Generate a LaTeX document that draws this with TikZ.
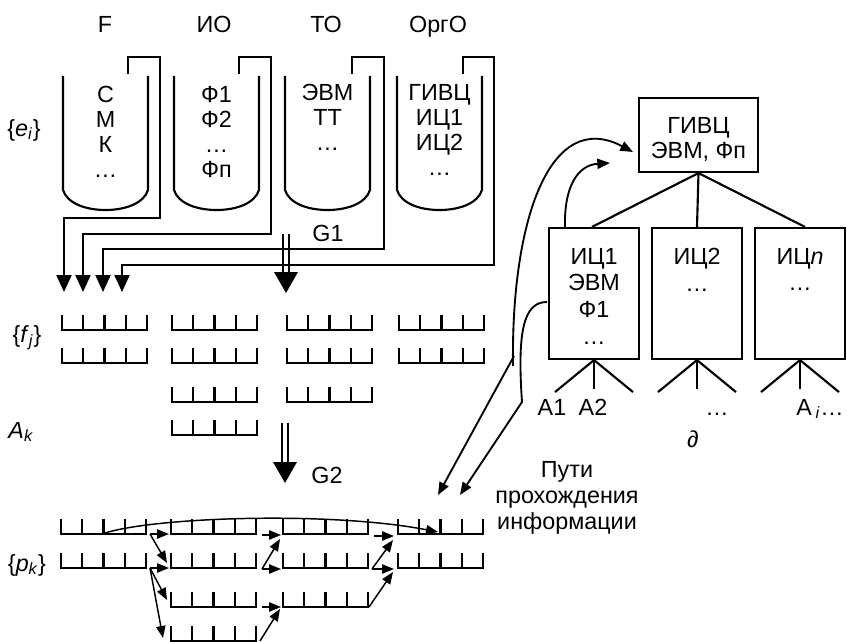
\documentclass[tikz,border=0pt]{standalone}
\usepackage{fontspec}
\setmainfont{Liberation Sans}
\usetikzlibrary{arrows.meta}
\begin{document}
\begin{tikzpicture}[x=0.75pt,y=-0.75pt,line join=miter,
  every node/.style={inner sep=0pt,font=\fontsize{17.5}{18.75}\selectfont},
  ln/.style={line width=1.6pt},
  feed/.style={line width=1.6pt,-{Triangle[length=12.75pt,width=11.25pt]}},
  ca/.style={line width=1.4pt,-{Triangle[length=9.5pt,width=7.5pt]}},
  cab/.style={line width=1.4pt,{Triangle[length=9.5pt,width=7.5pt]}-},
  sa/.style={line width=1.1pt,-{Triangle[length=9pt,width=7pt]}},
  box/.style={draw,line width=1.6pt},
  reg/.pic={\draw[line width=1.6pt] (0,0) -- (0,15) -- (85,15) -- (85,0);
            \foreach \k in {1,2,3}{\draw[line width=1.6pt] (21.25*\k,0) -- (21.25*\k,15);}}
]
\useasboundingbox (0,0) rectangle (847,642);

% ---- column headings
\node[anchor=base] (hF) at (105,33) {F};
\node[anchor=base] (hIO) at (214,33) {ИО};
\node[anchor=base] (hTO) at (326,33) {ТО};
\node[anchor=base] (hOrg) at (438,33) {ОргО};

% ---- containers (buckets)
\foreach \L in {63,174,285,397}{
  \draw[ln] (\L,76) -- (\L,190) .. controls (\L+4,203) and (\L+22,210) .. (\L+42.5,210)
        .. controls (\L+63,210) and (\L+81,203) .. (\L+85,190) -- (\L+85,76);
}
\node[anchor=north,align=center,font=\fontsize{17.5}{18.75}\selectfont] (tF) at (105.5,86) {С\\М\\К\\…};
\node[anchor=north,align=center,font=\fontsize{17.5}{18.75}\selectfont] (tIO) at (216.5,86) {Ф1\\Ф2\\…\\Фп};
\node[anchor=north,align=center,font=\fontsize{17.5}{18.75}\selectfont] (tTO) at (327.5,84) {ЭВМ\\ТТ\\…};
\node[anchor=north,align=center,font=\fontsize{17.5}{18.75}\selectfont] (tOrg) at (439.5,84) {ГИВЦ\\ИЦ1\\ИЦ2\\…};

% ---- feed lines to the four arrows
\draw[feed] (128,74) -- (128,57) -- (160,57) -- (160,218) -- (64,218) -- (64,292);
\draw[feed] (239,74) -- (239,57) -- (271,57) -- (271,234) -- (83,234) -- (83,292);
\draw[feed] (352,74) -- (352,57) -- (384,57) -- (384,249) -- (103,249) -- (103,292);
\draw[feed] (463,74) -- (463,57) -- (494,57) -- (494,265) -- (122,265) -- (122,292);

% ---- G1 double arrow
\draw[ln] (283,234) -- (283,274) (289,234) -- (289,274);
\fill (274,272) -- (298,272) -- (286,293) -- cycle;
\node (g1) at (328,233) {G1};

% ---- left labels
\node (ei) at (24,130) {\{\textit{e}\textsubscript{\textit{i}}\}};
\node (fj) at (27,338) {\{\textit{f}\textsubscript{\textit{j}}\}};
\node (ak) at (21,432) {\textit{A}\textsubscript{\textit{k}}};
\node (pk) at (27,565) {\{\textit{p}\textsubscript{\textit{k}}\}};

% ---- middle registers
\foreach \x/\y in {62/315,62/348,172/315,172/348,172/387,172/420,287/315,287/348,287/387,399/315,399/348}
  \pic at (\x,\y) {reg};

% ---- G2 double arrow
\draw[ln] (282,423) -- (282,464) (288,423) -- (288,464);
\fill (273,462) -- (297,462) -- (285,483) -- cycle;
\node (g2) at (327,475) {G2};

% ---- bottom registers
\foreach \x/\y in {61/519,61/553,171/519,171/553,171/592,171/626,283/519,283/553,283/592,398/519,398/553}
  \pic at (\x,\y) {reg};

% ---- small arrows between bottom registers
\draw[sa] (150,534) -- (169,534);
\draw[sa] (150,534) -- (167,563);
\draw[sa] (150,568) -- (169,568);
\draw[sa] (150,568) -- (167,600);
\draw[sa] (150,568) -- (163,638);
\draw[sa] (262,535) -- (281,535);
\draw[sa] (262,569) -- (280,539);
\draw[sa] (262,569) -- (281,569);
\draw[sa] (262,607) -- (281,607);
\draw[sa] (260,641) -- (280,609);
\draw[sa] (374,536) -- (394,536);
\draw[sa] (372,569) -- (393,540);
\draw[sa] (372,569) -- (394,569);
\draw[sa] (369,607) -- (393,572);

% ---- long path over the first row
\draw[sa] (102,534) .. controls (150,517) and (330,511) .. (438,532);

% ---- tree
\node[box,minimum width=89.25pt,minimum height=55.5pt] (givc) at (698.5,135) {};
\node[align=center,font=\fontsize{17.5}{18.75}\selectfont] (tgivc) at (698.5,139.5) {ГИВЦ\\ЭВМ, Фп};
\node[box,minimum width=67.5pt,minimum height=98.25pt] (ic1) at (594,293.5) {};
\node[box,minimum width=67.5pt,minimum height=98.25pt] (ic2) at (697,293.5) {};
\node[box,minimum width=67.5pt,minimum height=98.25pt] (icn) at (800,293.5) {};
\node[anchor=north,align=center,font=\fontsize{17.5}{20}\selectfont] (tic1) at (594,248) {ИЦ1\\ЭВМ\\Ф1\\…};
\node[anchor=north,align=center,font=\fontsize{17.5}{20}\selectfont] (tic2) at (697,248) {ИЦ2\\…};
\node[anchor=north,align=center,font=\fontsize{17.5}{20}\selectfont] (ticn) at (800,248) {ИЦ\textit{n}\\…};
\draw[ln] (givc.south) -- ([xshift=-1.5pt]ic1.north);
\draw[ln] (givc.south) -- (ic2.north);
\draw[ln] (givc.south) -- ([xshift=3.75pt]icn.north);
\foreach \c in {ic1,ic2,icn}{
  \draw[ln] (\c.south) -- ++(-39,32);
  \draw[ln] (\c.south) -- ++(0,29);
  \draw[ln] (\c.south) -- ++(39,32);
}
\node[anchor=base] (a1) at (552,415) {A1};
\node[anchor=base] (a2) at (593,415) {A2};
\node[anchor=base] (dots2) at (717,415) {…};
\node[anchor=base] (ai) at (820,415) {A\,\textsubscript{\textit{i}}…};
\node (d) at (693,439) {\textit{∂}};

% ---- arrows from ИЦ1 / A1 region
\draw[ca] ([xshift=-21.75pt]ic1.north) .. controls (564,186) and (578,165) .. (610,163);
\draw[cab] (438,495) -- (514,356);
\draw[ca] (513,366) .. controls (511,220) and (550,108) .. (633,152);
\draw[cab] (460,495) -- (522,402) .. controls (517,330) and (524,302) .. (547,302);

% ---- caption
\node[anchor=north,align=center,font=\fontsize{17.5}{19.5}\selectfont] (paths) at (567,461) {Пути\\прохождения\\информации};
\end{tikzpicture}
\end{document}
